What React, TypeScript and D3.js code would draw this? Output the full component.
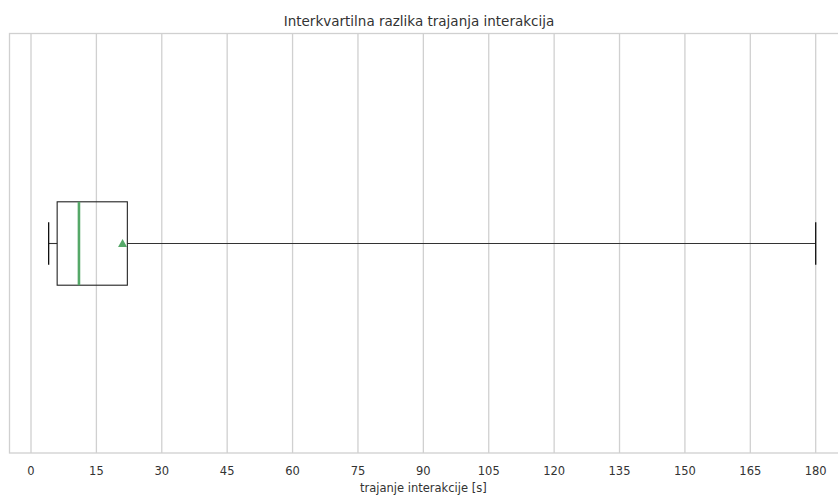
import { scaleLinear, range } from 'd3';

const title = 'Interkvartilna razlika trajanja interakcija';
const xLabel = 'trajanje interakcije [s]';
const xTicks = range(0, 181, 15);

// five-number summary + mean, in seconds
const whiskerLow = [4.05];
const quartiles = [6.0, 11.0, 22.1];
const whiskerHigh = [180];
const meanValue = [21.0];

const GREEN = '#55a868';
const GRID = '#d0d0d0';
const TEXT = '#333333';

export default function App() {
  const width = 838;
  const height = 495;
  const plot = { left: 9.5, top: 33.5, bottom: 453, right: 845 };
  const x = scaleLinear().domain([0, 180]).range([31, 815.7]);
  const cy = 243.5;
  const boxHalf = 41.7;
  const capHalf = 21.2;

  const [q1, med, q3] = quartiles;
  const lo = whiskerLow[0];
  const hi = whiskerHigh[0];
  const mean = meanValue[0];
  const mx = x(mean);

  return (
    <svg
      width={width}
      height={height}
      viewBox={`0 0 ${width} ${height}`}
      style={{ position: 'absolute', left: 0, top: 0, background: '#fff' }}
      fontFamily="DejaVu Sans, sans-serif"
    >
      <text x={419} y={26} textAnchor="middle" fontSize={13.5} fill={TEXT}>
        {title}
      </text>

      {xTicks.map((t) => (
        <g key={t}>
          <line x1={x(t)} x2={x(t)} y1={plot.top} y2={plot.bottom} stroke={GRID} strokeWidth={1.3} />
          <text x={x(t)} y={474.5} textAnchor="middle" fontSize={11.5} fill={TEXT}>
            {t}
          </text>
        </g>
      ))}

      <rect
        x={plot.left}
        y={plot.top}
        width={plot.right - plot.left}
        height={plot.bottom - plot.top}
        fill="none"
        stroke={GRID}
        strokeWidth={1.3}
      />

      {/* whiskers */}
      <line x1={x(lo)} x2={x(q1)} y1={cy} y2={cy} stroke="#333" strokeWidth={1.1} />
      <line x1={x(q3)} x2={x(hi)} y1={cy} y2={cy} stroke="#333" strokeWidth={1.1} />
      <line x1={x(lo)} x2={x(lo)} y1={cy - capHalf} y2={cy + capHalf} stroke="#111" strokeWidth={1.3} />
      <line x1={x(hi)} x2={x(hi)} y1={cy - capHalf} y2={cy + capHalf} stroke="#111" strokeWidth={1.3} />

      {/* box */}
      <rect
        x={x(q1)}
        y={cy - boxHalf}
        width={x(q3) - x(q1)}
        height={boxHalf * 2}
        fill="none"
        stroke="#222"
        strokeWidth={1.1}
      />
      <line x1={x(med)} x2={x(med)} y1={cy - boxHalf} y2={cy + boxHalf} stroke={GREEN} strokeWidth={2.6} />

      {/* mean marker */}
      <path d={`M${mx},${cy - 4.5} L${mx + 4.5},${cy + 3.5} L${mx - 4.5},${cy + 3.5} Z`} fill={GREEN} />

      <text x={x(90)} y={492} textAnchor="middle" fontSize={11.5} fill={TEXT}>
        {xLabel}
      </text>
    </svg>
  );
}
